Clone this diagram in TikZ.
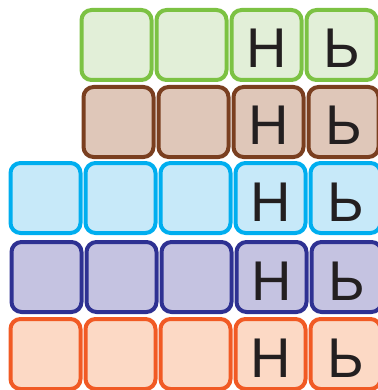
\documentclass[tikz,border=0pt]{standalone}
\usepackage{fontspec}
\setmainfont{Liberation Sans}
\definecolor{gstroke}{HTML}{7CC243}
\definecolor{gfill}{HTML}{E2EFD8}
\definecolor{bstroke}{HTML}{7A3F20}
\definecolor{bfill}{HTML}{DFC7B9}
\definecolor{cstroke}{HTML}{00AEEF}
\definecolor{cfill}{HTML}{C7E9F9}
\definecolor{pstroke}{HTML}{2E3192}
\definecolor{pfill}{HTML}{C5C3E1}
\definecolor{ostroke}{HTML}{F15A24}
\definecolor{ofill}{HTML}{FCD9C5}
\definecolor{ink}{HTML}{231F20}
\tikzset{
  tile/.style={draw, line width=4pt, rounded corners=10pt, minimum width=70pt, minimum height=70pt, inner sep=0pt,
    text=ink, font=\fontsize{56}{56}\selectfont, text height=46pt, text depth=0pt},
  gtile/.style={tile, draw=gstroke, fill=gfill},
  btile/.style={tile, draw=bstroke, fill=bfill},
  ctile/.style={tile, draw=cstroke, fill=cfill},
  ptile/.style={tile, draw=pstroke, fill=pfill},
  otile/.style={tile, draw=ostroke, fill=ofill}
}
\begin{document}
\begin{tikzpicture}[x=1pt,y=-1pt]
\useasboundingbox (0,0) rectangle (377,390);
% row 1
\node[gtile] (g1) at (116.5,45) {};
\node[gtile] (g2) at (191.5,45) {};
\node[gtile] (g3) at (266.5,45) {Н};
\node[gtile] (g4) at (341.5,45) {Ь};
% row 2
\node[btile] (b1) at (118.5,122) {};
\node[btile] (b2) at (193.5,122) {};
\node[btile] (b3) at (268.5,122) {Н};
\node[btile] (b4) at (343.5,122) {Ь};
% row 3
\node[ctile] (c1) at (45.5,198) {};
\node[ctile] (c2) at (120.5,198) {};
\node[ctile] (c3) at (195.5,198) {};
\node[ctile] (c4) at (270.5,198) {Н};
\node[ctile] (c5) at (345.5,198) {Ь};
% row 4
\node[ptile] (p1) at (46.5,277) {};
\node[ptile] (p2) at (121.5,277) {};
\node[ptile] (p3) at (196.5,277) {};
\node[ptile] (p4) at (271.5,277) {Н};
\node[ptile] (p5) at (346.5,277) {Ь};
% row 5
\node[otile] (o1) at (45.5,354) {};
\node[otile] (o2) at (120.5,354) {};
\node[otile] (o3) at (195.5,354) {};
\node[otile] (o4) at (270.5,354) {Н};
\node[otile] (o5) at (345.5,354) {Ь};
\end{tikzpicture}
\end{document}
